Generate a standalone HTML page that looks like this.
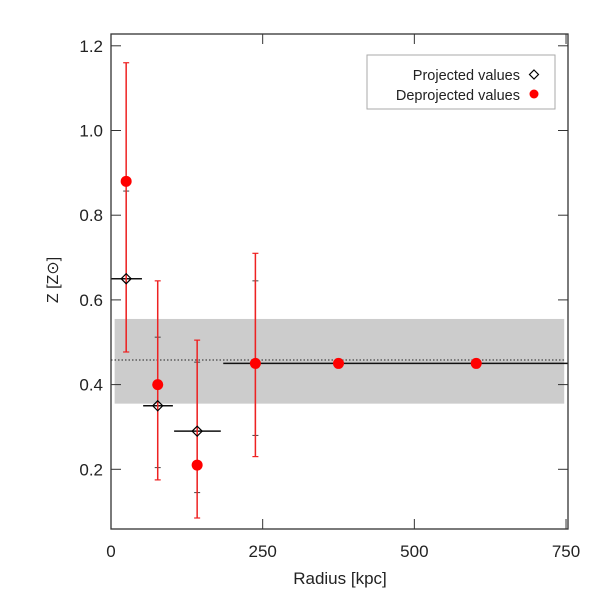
<!DOCTYPE html>
<html><head><meta charset="utf-8"><style>
body{margin:0;background:#fff}
svg text{font-family:"Liberation Sans",sans-serif;fill:#222}
</style></head><body>
<svg id="chart" width="600" height="600" viewBox="0 0 600 600" xmlns="http://www.w3.org/2000/svg">
<g id="plot"></g>
</svg>
<script>
const xTicks=[0,250,500,750];
const yTicks=[0.2,0.4,0.6,0.8,1.0,1.2];
const yTickLabels=["0.2","0.4","0.6","0.8","1.0","1.2"];
const projX=[25,77,142,238];
const projXlo=[0,53,104,185];
const projXhi=[51,102,181,753];
const projY=[0.65,0.35,0.29,0.45];
const projYlo=[0.477,0.204,0.145,0.28];
const projYhi=[0.857,0.512,0.453,0.645];
const deprX=[25,77,142,238,375,602];
const deprY=[0.88,0.40,0.21,0.45,0.45,0.45];
const deprYlo=[0.477,0.175,0.085,0.23,0.45,0.45];
const deprYhi=[1.16,0.645,0.505,0.71,0.45,0.45];
const bandLo=0.355, bandHi=0.555, meanZ=0.458, bandX0=6, bandX1=747;

const L=111,R=568,T=34,B=529;
const X=v=>L+v*0.6067;
const Y=v=>469.3-(v-0.2)*423.5;
const NS="http://www.w3.org/2000/svg";
const g=document.getElementById('plot');
function mk(tag,attrs,parent){const e=document.createElementNS(NS,tag);for(const k in attrs)e.setAttribute(k,attrs[k]);(parent||g).appendChild(e);return e;}

let e=mk('rect',{x:X(bandX0),y:Y(bandHi),width:X(bandX1)-X(bandX0),height:Y(bandLo)-Y(bandHi),fill:'#cccccc'});


e=mk('line',{x1:X(0),x2:X(750),y1:Y(meanZ),y2:Y(meanZ),stroke:'#222','stroke-width':1,'stroke-dasharray':'1.5,2'});



for(let i=0;i<projX.length;i++){
  e=mk('line',{x1:X(projXlo[i]),x2:X(projXhi[i]),y1:Y(projY[i]),y2:Y(projY[i]),stroke:'#111','stroke-width':1.5});
  
  
  e=mk('line',{x1:X(projX[i]),x2:X(projX[i]),y1:Y(projYlo[i]),y2:Y(projYhi[i]),stroke:'#b33','stroke-width':1.2});
  
  
  for(const v of [projYlo[i],projYhi[i]]){
    e=mk('line',{x1:X(projX[i])-3,x2:X(projX[i])+3,y1:Y(v),y2:Y(v),stroke:'#444','stroke-width':1});
    
    
  }
}
for(let i=0;i<deprX.length;i++){
  if(deprYhi[i]>deprYlo[i]){
    e=mk('line',{x1:X(deprX[i]),x2:X(deprX[i]),y1:Y(deprYlo[i]),y2:Y(deprYhi[i]),stroke:'#e22','stroke-width':1.5});
    
    
    for(const v of [deprYlo[i],deprYhi[i]]){
      e=mk('line',{x1:X(deprX[i])-3,x2:X(deprX[i])+3,y1:Y(v),y2:Y(v),stroke:'#e22','stroke-width':1.2});
      
      
    }
  }
}
for(let i=0;i<projX.length-1;i++){
  const cx=X(projX[i]),cy=Y(projY[i]);
  e=mk('polygon',{points:`${cx},${cy-5} ${cx+5},${cy} ${cx},${cy+5} ${cx-5},${cy}`,fill:'none',stroke:'#000','stroke-width':1.2});
  
  
}
for(let i=0;i<deprX.length;i++){
  e=mk('circle',{cx:X(deprX[i]),cy:Y(deprY[i]),r:5.5,fill:'#f00'});
  
  
}
e=mk('rect',{x:L,y:T,width:R-L,height:B-T,fill:'none',stroke:'#333','stroke-width':1.3});


xTicks.forEach(t=>{
  mk('line',{x1:X(t),x2:X(t),y1:B,y2:B-10,stroke:'#333'});
  mk('line',{x1:X(t),x2:X(t),y1:T,y2:T+10,stroke:'#333'});
  e=mk('text',{x:X(t),y:557,'text-anchor':'middle','font-size':17});
  e.textContent=t;
  
  
});
yTicks.forEach((t,i)=>{
  mk('line',{x1:L,x2:L+10,y1:Y(t),y2:Y(t),stroke:'#333'});
  mk('line',{x1:R,x2:R-10,y1:Y(t),y2:Y(t),stroke:'#333'});
  e=mk('text',{x:L-8,y:Y(t)+6,'text-anchor':'end','font-size':17});
  e.textContent=yTickLabels[i];
  
  
});
e=mk('text',{x:340,y:584,'text-anchor':'middle','font-size':17});
e.textContent='Radius [kpc]';


e=mk('text',{x:0,y:0,'text-anchor':'middle','font-size':16,transform:'translate(58,280) rotate(-90)'});
e.textContent='Z [Z\u2299]';


const lg=mk('g',{});


mk('rect',{x:367,y:55,width:188,height:54,fill:'#fff',stroke:'#aaa'},lg);
e=mk('text',{x:520,y:80,'text-anchor':'end','font-size':14.5},lg);
e.textContent='Projected values';


mk('polygon',{points:'534,70 538.5,74.5 534,79 529.5,74.5',fill:'none',stroke:'#000','stroke-width':1.2},lg);
e=mk('text',{x:520,y:100,'text-anchor':'end','font-size':14.5},lg);
e.textContent='Deprojected values';


mk('circle',{cx:534,cy:94,r:4.5,fill:'#f00'},lg);
</script>
</body></html>
